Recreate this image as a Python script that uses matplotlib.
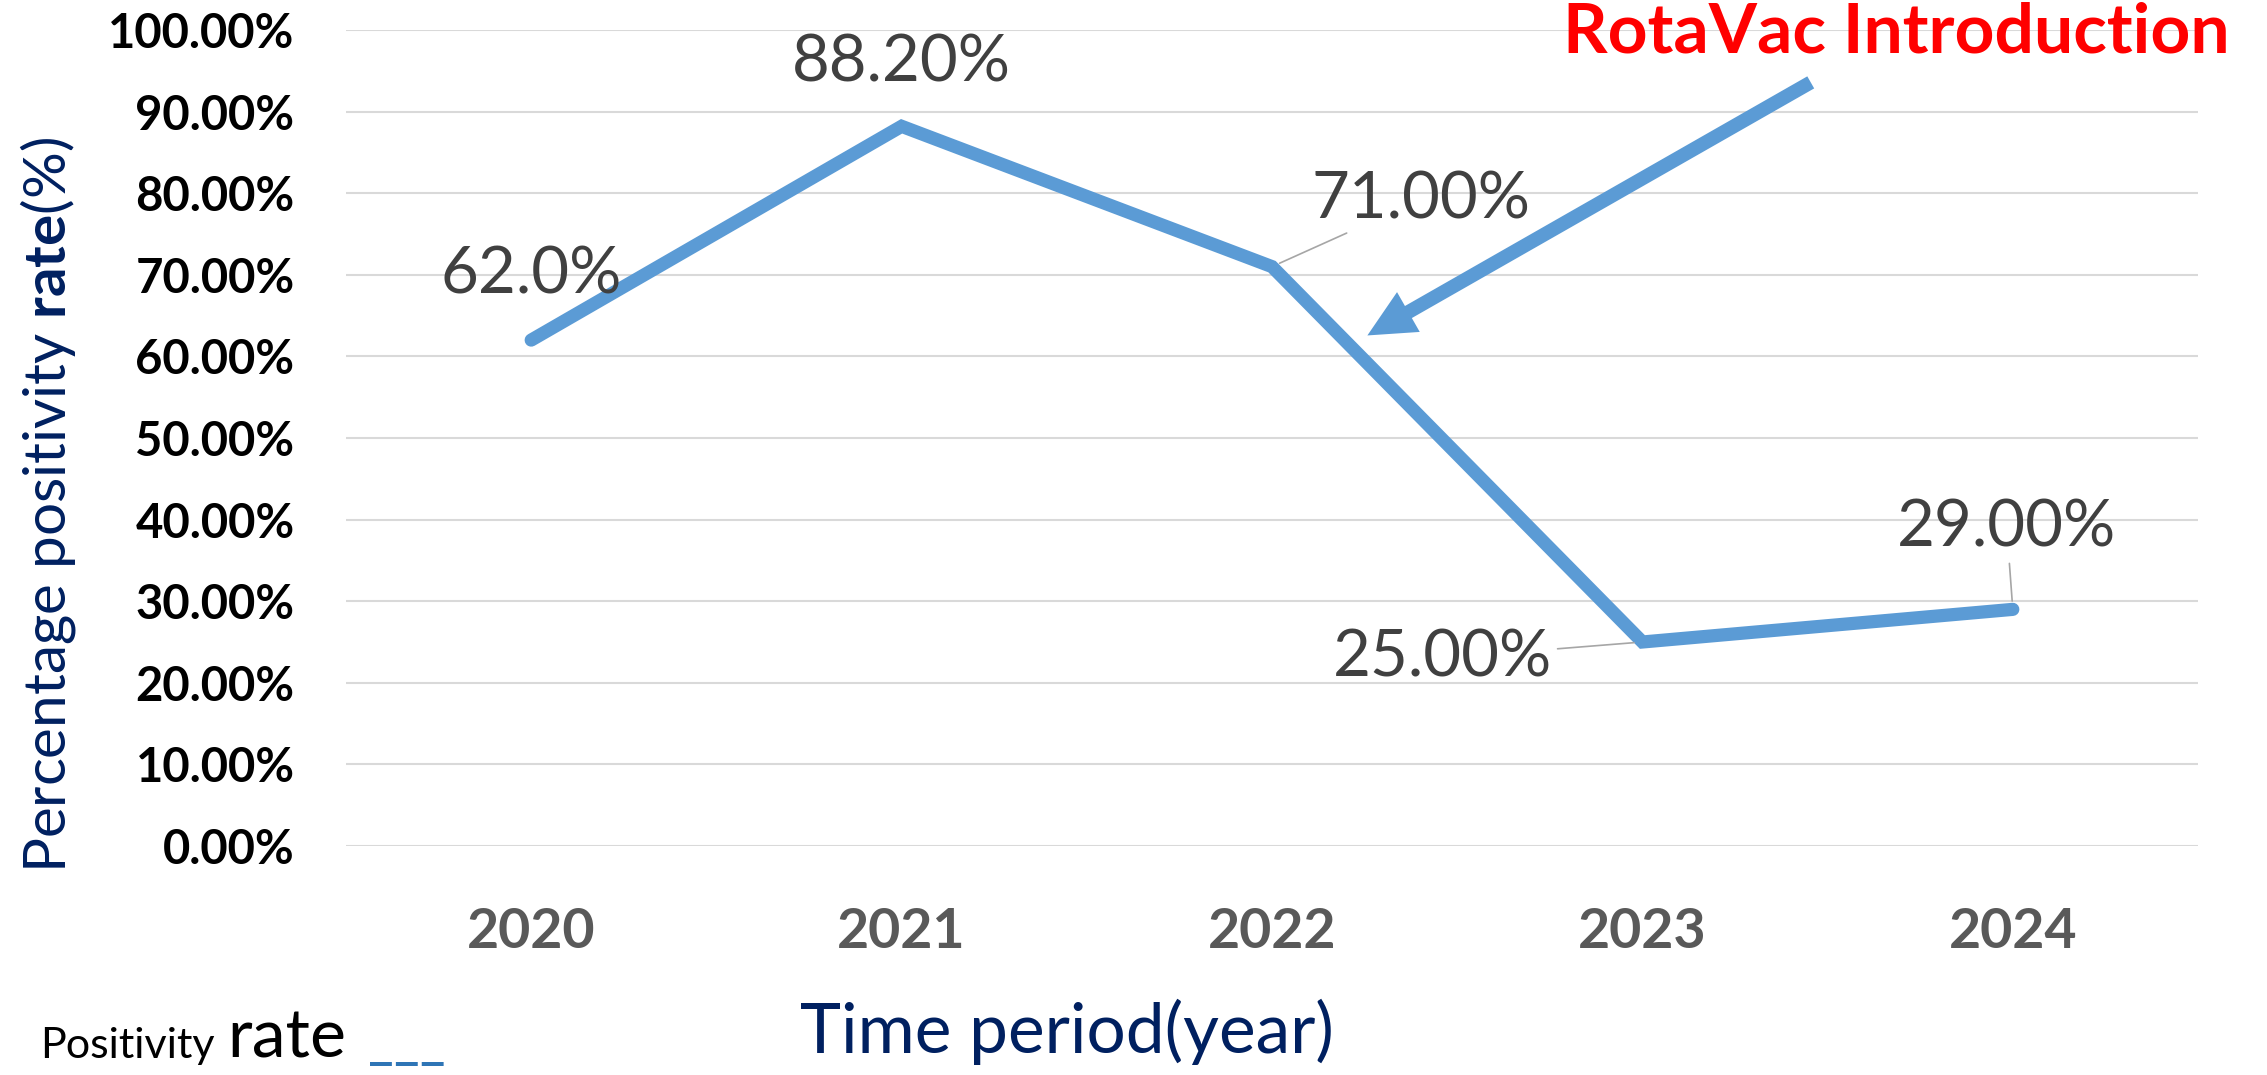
import matplotlib
matplotlib.use('Agg')
import matplotlib.pyplot as plt
from matplotlib.patches import FancyArrowPatch

# data
years = ['2020', '2021', '2022', '2023', '2024']
rates = [0.62, 0.882, 0.71, 0.25, 0.29]
rate_labels = ['62.0%', '88.20%', '71.00%', '25.00%', '29.00%']
y_ticks = [i / 10 for i in range(11)]
y_tick_labels = ['%.2f%%' % (t * 100) for t in y_ticks]

# label offsets from each point, in pixels (dx, dy)
label_offsets = [(0, 65), (0, 63), (149, 67), (-200, -16), (-6, 81)]
has_leader = [False, False, True, True, True]

W, H = 2267, 1075
LINE_BLUE = '#5B9BD5'
NAVY = '#002060'

plt.rcParams['font.family'] = ['Lato', 'DejaVu Sans']
plt.rcParams['mathtext.fontset'] = 'custom'
plt.rcParams['mathtext.rm'] = 'Lato'
plt.rcParams['mathtext.bf'] = 'Lato:bold'

fig = plt.figure(figsize=(W / 100, H / 100), dpi=100)
ax = fig.add_axes([346 / W, 1 - 846 / H, 1852 / W, 816 / H])

xs = list(range(len(years)))
ax.plot(xs, rates, color=LINE_BLUE, lw=9.5, solid_capstyle='round',
        solid_joinstyle='miter', zorder=3)

ax.set_xlim(-0.5, len(years) - 0.5)
ax.set_ylim(0, 1.0)
ax.set_yticks(y_ticks)
ax.set_yticklabels(y_tick_labels, fontsize=34, fontweight='bold', color='black')
ax.set_xticks(xs)
ax.set_xticklabels(years, fontsize=40, fontweight='bold', color='#595959')
ax.tick_params(axis='y', length=0, pad=37)
ax.tick_params(axis='x', length=0, pad=44)
ax.grid(axis='y', color='#D9D9D9', lw=1.5)
ax.set_axisbelow(True)
for s in ax.spines.values():
    s.set_visible(False)

for i, (lab, off, lead) in enumerate(zip(rate_labels, label_offsets, has_leader)):
    props = None
    if lead:
        props = dict(arrowstyle='-', color='#A6A6A6', lw=1.2, shrinkA=2, shrinkB=6)
    ax.annotate(lab, xy=(i, rates[i]), xytext=off, textcoords='offset pixels',
                ha='center', va='center', fontsize=47, color='#404040',
                arrowprops=props, zorder=4)

# arrow pointing at the 2022-2023 drop
arrow = FancyArrowPatch((3.461, 0.9375), (2.251, 0.624),
                        arrowstyle='simple,tail_width=1.0,head_width=3.3,head_length=3.4',
                        mutation_scale=10, color=LINE_BLUE, lw=0, clip_on=False, zorder=5)
ax.add_patch(arrow)

fig.text(1896 / W, 1 - 33 / H, 'RotaVac Introduction', color='red', fontsize=50,
         fontweight='bold', ha='center', va='center')

fig.text(48 / W, 1 - 505 / H, r'Percentage positivity $\bf{rate}$(%)', rotation=90,
         color=NAVY, fontsize=42, ha='center', va='center')

fig.text(1067 / W, 1 - 1053 / H, 'Time period(year)', color=NAVY, fontsize=50,
         ha='center', va='baseline')

fig.text(40 / W, 1 - 1058 / H, 'Positivity', color='black', fontsize=31, va='baseline')
fig.text(227 / W, 1 - 1058 / H, 'rate', color='black', fontsize=49, va='baseline')
fig.text(368 / W, 1 - 1058 / H, '___', color='#2E75B6', fontsize=40,
         fontweight='bold', va='baseline')

fig.savefig('out.png', dpi=100, facecolor='white')
